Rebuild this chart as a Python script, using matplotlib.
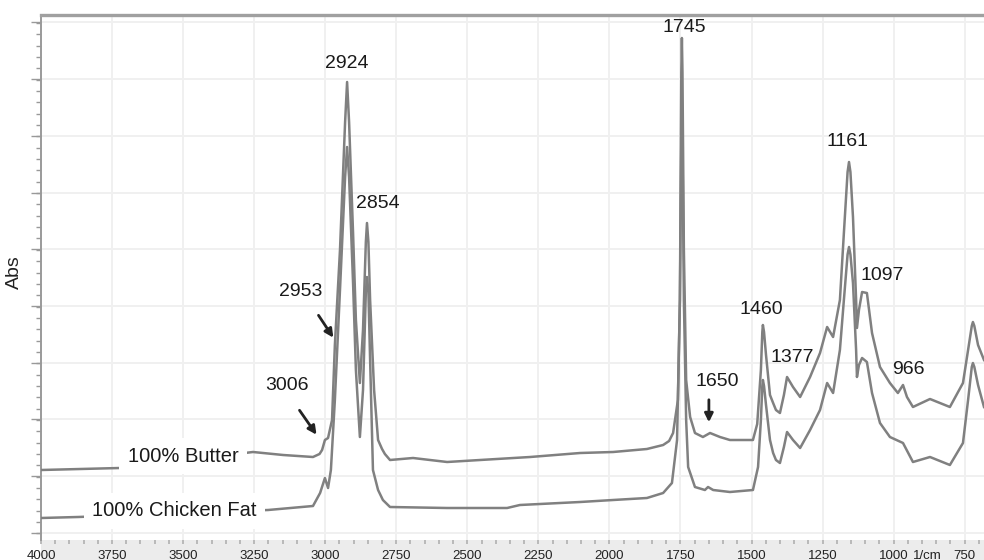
import matplotlib
matplotlib.use("Agg")
import matplotlib.pyplot as plt
from matplotlib.patches import Rectangle
from matplotlib.ticker import MultipleLocator, FixedLocator
import numpy as np

plt.rcParams['font.family'] = ['Liberation Sans', 'DejaVu Sans']

# ---- data (wavenumber in 1/cm, absorbance in arbitrary units) ----
butter_wn = [4000, 3722, 3254, 3148, 3043, 3020, 3011, 3001, 2990, 2976, 2966, 2948, 2930,
             2923, 2916, 2902, 2892, 2878, 2867, 2857, 2853, 2848, 2842, 2828, 2814, 2800,
             2790, 2772, 2691, 2571, 2455, 2279, 2103, 1987, 1868, 1811, 1790, 1776, 1759,
             1752, 1747, 1745, 1743, 1738, 1730, 1716, 1699, 1671, 1646, 1611, 1576, 1495,
             1480, 1467, 1462, 1460, 1456, 1449, 1435, 1424, 1414, 1400, 1386, 1375, 1354,
             1329, 1294, 1259, 1234, 1213, 1189, 1175, 1162, 1157, 1152, 1143, 1132, 1129,
             1122, 1111, 1094, 1076, 1048, 1013, 985, 967, 953, 932, 872, 802, 756, 738,
             725, 721, 716, 703, 682]
butter_abs = [0.104, 0.108, 0.140, 0.134, 0.130, 0.136, 0.144, 0.164, 0.168, 0.204, 0.354,
              0.544, 0.800, 0.880, 0.800, 0.578, 0.404, 0.278, 0.384, 0.560, 0.598, 0.560,
              0.444, 0.264, 0.164, 0.146, 0.136, 0.124, 0.128, 0.120, 0.124, 0.130, 0.138,
              0.140, 0.146, 0.154, 0.162, 0.178, 0.244, 0.444, 0.900, 0.968, 0.900, 0.544,
              0.284, 0.210, 0.178, 0.170, 0.178, 0.170, 0.164, 0.164, 0.196, 0.304, 0.380,
              0.394, 0.380, 0.334, 0.254, 0.238, 0.224, 0.218, 0.254, 0.290, 0.270, 0.250,
              0.290, 0.338, 0.390, 0.370, 0.444, 0.578, 0.700, 0.720, 0.700, 0.610, 0.444,
              0.388, 0.424, 0.460, 0.458, 0.378, 0.310, 0.278, 0.258, 0.274, 0.250, 0.230,
              0.246, 0.230, 0.278, 0.344, 0.392, 0.400, 0.392, 0.354, 0.324]

chicken_wn = [4000, 3870, 3201, 3043, 3018, 3001, 2990, 2980, 2966, 2948, 2930, 2923, 2916,
              2902, 2892, 2878, 2867, 2857, 2853, 2848, 2842, 2832, 2814, 2797, 2772, 2571,
              2360, 2315, 2103, 1987, 1868, 1811, 1780, 1762, 1752, 1747, 1745, 1743, 1738,
              1730, 1723, 1699, 1664, 1653, 1635, 1576, 1495, 1477, 1467, 1462, 1460, 1456,
              1449, 1435, 1424, 1414, 1400, 1386, 1375, 1354, 1329, 1294, 1259, 1234, 1213,
              1189, 1175, 1162, 1157, 1152, 1143, 1132, 1129, 1122, 1111, 1094, 1076, 1048,
              1013, 967, 932, 872, 802, 756, 738, 725, 721, 716, 703, 682]
chicken_abs = [0.008, 0.010, 0.024, 0.032, 0.058, 0.088, 0.068, 0.104, 0.244, 0.464, 0.690,
               0.750, 0.690, 0.478, 0.304, 0.170, 0.264, 0.460, 0.490, 0.460, 0.324, 0.104,
               0.064, 0.044, 0.030, 0.028, 0.028, 0.034, 0.040, 0.044, 0.048, 0.058, 0.078,
               0.164, 0.444, 0.760, 0.810, 0.760, 0.444, 0.204, 0.110, 0.070, 0.064, 0.070,
               0.064, 0.060, 0.064, 0.110, 0.204, 0.272, 0.284, 0.272, 0.234, 0.164, 0.138,
               0.124, 0.118, 0.150, 0.180, 0.164, 0.148, 0.184, 0.224, 0.278, 0.258, 0.344,
               0.444, 0.535, 0.550, 0.535, 0.478, 0.344, 0.290, 0.314, 0.328, 0.320, 0.258,
               0.198, 0.170, 0.158, 0.120, 0.130, 0.114, 0.158, 0.244, 0.310, 0.318, 0.310,
               0.274, 0.230]

x_tick_values = [4000, 3750, 3500, 3250, 3000, 2750, 2500, 2250, 2000, 1750, 1500, 1250, 1000, 750]
x_tick_labels = ["4000", "3750", "3500", "3250", "3000", "2750", "2500", "2250", "2000",
                 "1750", "1500", "1250", "1000", "750"]
x_unit = "1/cm"
y_label = "Abs"

peak_labels = ["2924", "2854", "1745", "1161", "1097", "1460", "1377", "966"]
peak_text_pos = [(2925, 0.918), (2814, 0.638), (1737, 0.990), (1164, 0.762),
                 (1041, 0.494), (1467, 0.426), (1357, 0.330), (949, 0.304)]

arrow_labels = ["2953", "3006", "1650"]
arrow_text_pos = [(3085, 0.460), (3134, 0.272), (1621, 0.282)]
arrow_from = [(3029, 0.418), (3096, 0.228), (1650, 0.250)]
arrow_to = [(2966, 0.364), (3025, 0.170), (1650, 0.194)]

series_names = ["100% Butter", "100% Chicken Fat"]
series_label_pos = [(3500, 0.132), (3532, 0.022)]

# ---- figure ----
W, H = 984, 560
fig = plt.figure(figsize=(W / 100, H / 100), dpi=100)
fig.patch.set_facecolor('white')

# light gray band under the axis
fig.add_artist(Rectangle((41 / W, 0), 1 - 41 / W, 20 / H, transform=fig.transFigure,
                         facecolor='#ececec', edgecolor='none', zorder=0))

ax = fig.add_axes([41 / W, 20 / H, 943 / W, 525 / H])
ax.set_facecolor('none')
ax.set_xlim(4000, 682)
ax.set_ylim(-0.036, 1.014)

line_color = '#808080'
ax.plot(butter_wn, butter_abs, color=line_color, lw=1.8, zorder=3, solid_joinstyle='round')
ax.plot(chicken_wn, chicken_abs, color=line_color, lw=1.8, zorder=3, solid_joinstyle='round')

# ticks & grid
ax.xaxis.set_major_locator(FixedLocator(x_tick_values))
ax.set_xticklabels(x_tick_labels)
ax.xaxis.set_minor_locator(MultipleLocator(50))
ymaj = np.arange(0.092 - 0.1134, 1.014, 0.1134)
ax.yaxis.set_major_locator(FixedLocator(ymaj))
ax.yaxis.set_minor_locator(MultipleLocator(0.02268))
ax.grid(True, which='major', color='#f0f0f0', lw=1.4, zorder=0)
ax.set_axisbelow(True)

ax.tick_params(axis='x', which='both', direction='out', length=3, width=1.2,
               color='#b0b0b0', labelsize=9.5, pad=4, labelcolor='#222222')
ax.tick_params(axis='y', which='major', direction='out', length=7, width=1,
               color='#999999', labelleft=False)
ax.tick_params(axis='y', which='minor', direction='out', length=3.5, width=1,
               color='#999999')

for s in ['right', 'bottom']:
    ax.spines[s].set_visible(False)
ax.spines['top'].set_color('#a0a0a0')
ax.spines['top'].set_linewidth(2.4)
ax.spines['left'].set_color('#9a9a9a')
ax.spines['left'].set_linewidth(1.4)

# unit label next to the 1000 tick label
ax.text(882, -0.0185, x_unit, transform=ax.get_xaxis_transform(), fontsize=9.5,
        color='#222222', ha='center', va='top')

ax.set_ylabel(y_label, fontsize=14, color='#222222')
ax.yaxis.set_label_coords(-0.019, 0.51)

# peak labels
for lab, (x, y) in zip(peak_labels, peak_text_pos):
    ax.text(x, y, lab, fontsize=14, ha='center', va='center', color='#1a1a1a', zorder=5)

for lab, (x, y), f, t in zip(arrow_labels, arrow_text_pos, arrow_from, arrow_to):
    ax.text(x, y, lab, fontsize=14, ha='center', va='center', color='#1a1a1a', zorder=5)
    ax.annotate("", xy=t, xytext=f,
                arrowprops=dict(arrowstyle='-|>,head_length=0.5,head_width=0.25',
                                color='#222222', lw=2), zorder=5)

for name, (x, y) in zip(series_names, series_label_pos):
    ax.text(x, y, name, fontsize=14.5, ha='center', va='center', color='#1a1a1a', zorder=6,
            bbox=dict(facecolor='white', edgecolor='none', pad=6))

fig.savefig("out.png", dpi=100)
